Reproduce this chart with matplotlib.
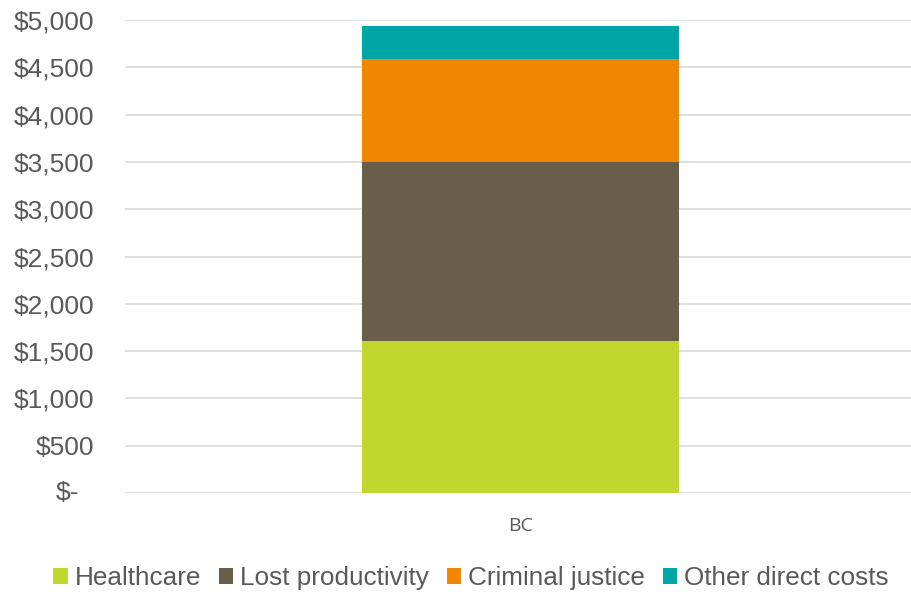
import matplotlib.pyplot as plt
from matplotlib.ticker import FuncFormatter
from matplotlib.transforms import offset_copy

plt.rcParams['font.family'] = ['Liberation Sans', 'DejaVu Sans']

categories = ['BC']
series = ['Healthcare', 'Lost productivity', 'Criminal justice', 'Other direct costs']
values = [1607, 1892, 1092, 349]
colors = ['#c0d72f', '#695e4a', '#ef8700', '#00a5a5']

fig = plt.figure(figsize=(9.12, 5.93), dpi=100)
ax = fig.add_axes([125 / 912, 1 - 493 / 593, 1 - 125 / 912, 473 / 593])

bottom = 0
for name, v, c in zip(series, values, colors):
    ax.bar(0, v, width=0.404, bottom=bottom, color=c, label=name, zorder=3)
    bottom += v

ax.set_xlim(-0.505, 0.5)
ax.set_ylim(0, 5000)
ax.set_yticks(range(0, 5001, 500))
# zero label drawn separately (accounting style "$-" sits left of the digits)
ax.yaxis.set_major_formatter(FuncFormatter(lambda x, p: '' if x == 0 else '${:,.0f}'.format(x)))
ax.text(0, 0, '$-', transform=offset_copy(ax.get_yaxis_transform(), fig=fig, x=-46, y=0, units='dots'),
        ha='right', va='center', fontsize=19, color='#595959')
ax.set_xticks([0])
ax.set_xticklabels(categories, fontsize=14, color='#595959', family=['Open Sans', 'DejaVu Sans'])
ax.tick_params(axis='x', length=0, pad=17)
ax.tick_params(axis='y', length=0, labelsize=19, labelcolor='#595959', pad=22)
ax.grid(axis='y', color='#d9d9d9', linewidth=1.2, zorder=0)
for s in ax.spines.values():
    s.set_visible(False)

fig.legend(loc='center', bbox_to_anchor=(471 / 912, 1 - 578 / 593), ncol=4, frameon=False,
           fontsize=18.8, labelcolor='#595959', handlelength=0.55, handleheight=0.55,
           handletextpad=0.27, columnspacing=0.68, borderaxespad=0)

fig.savefig('out.png', dpi=100)
